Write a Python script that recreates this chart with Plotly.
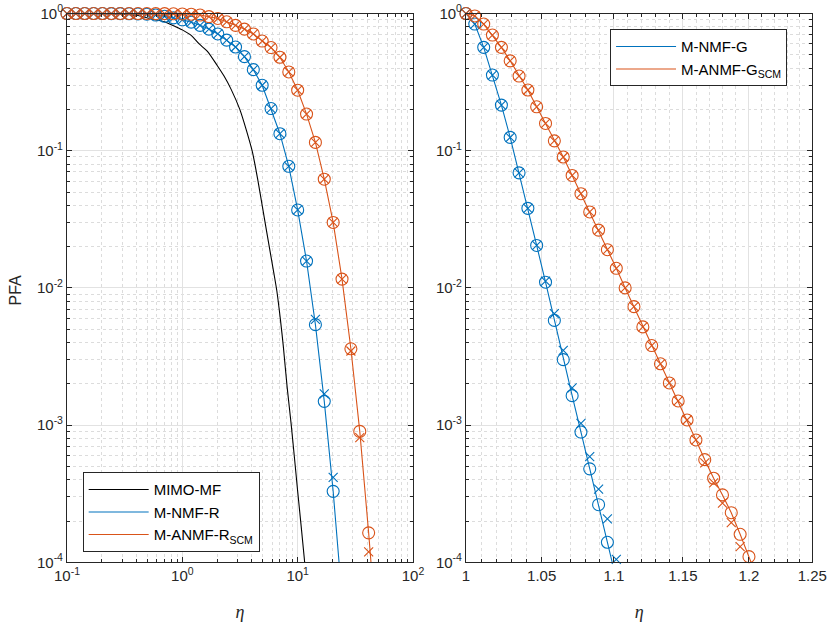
import math

import plotly.graph_objects as go

BLUE = "#0072BD"
ORANGE = "#D95319"
AXIS = "#262626"
PFA_MIN = 1e-4

# ---- left panel (eta on a log grid) ----
eta_left = [0.1, 0.1194, 0.1425, 0.1701, 0.2031, 0.2424, 0.2894, 0.3455, 0.4125, 0.4924,
            0.5878, 0.7017, 0.8377, 1.0, 1.194, 1.425, 1.701, 2.031, 2.424, 2.894,
            3.455, 4.125, 4.924, 5.878, 7.017, 8.377, 10.0, 11.94, 14.25, 17.01,
            20.31, 24.24, 28.94, 34.55, 41.25, 49.24]

eta_mf = [0.1, 0.2, 0.3, 0.4, 0.55, 0.7, 0.85, 1.0, 1.2, 1.4, 1.65, 2.0, 2.3, 2.65, 3.15,
          3.6, 4.05, 4.5, 5.0, 5.7, 6.2, 6.6, 7.1, 7.5, 8.1, 8.8, 10.0, 11.5, 12.5]
pfa_mf = [1.0, 0.998, 0.99, 0.97, 0.91, 0.87, 0.81, 0.76, 0.69, 0.6, 0.53, 0.42, 0.35, 0.28,
          0.2, 0.14, 0.098, 0.062, 0.037, 0.0195, 0.013, 0.0095, 0.0058, 0.0038, 0.0019, 0.001,
          0.00033, 0.0001, 0.00004]

pfa_nmf_r = [1.0, 1.0, 1.0, 1.0, 1.0, 0.999, 0.998, 0.996, 0.993, 0.988,
             0.975, 0.955, 0.93, 0.9, 0.865, 0.82, 0.77, 0.71, 0.64, 0.57,
             0.485, 0.39, 0.30, 0.203, 0.133, 0.077, 0.037, 0.0157, 0.0054, 0.00149,
             0.000329, 0.000055]
pfa_nmf_r_sim = [1.0, 1.0, 1.0, 1.0, 1.0, 0.999, 0.998, 0.996, 0.993, 0.988,
                 0.975, 0.955, 0.93, 0.9, 0.865, 0.82, 0.77, 0.71, 0.64, 0.57,
                 0.485, 0.39, 0.30, 0.203, 0.133, 0.077, 0.037, 0.0157, 0.0059, 0.00169,
                 0.000416]

pfa_anmf_r = [1.0, 1.0, 1.0, 1.0, 1.0, 1.0, 1.0, 1.0, 1.0, 1.0,
              0.999, 0.998, 0.996, 0.993, 0.988, 0.975, 0.95, 0.92, 0.87, 0.82,
              0.77, 0.71, 0.63, 0.565, 0.48, 0.375, 0.276, 0.185, 0.115, 0.062,
              0.030, 0.0116, 0.0036, 0.0009, 0.000164, 0.000025]
pfa_anmf_r_sim = [1.0, 1.0, 1.0, 1.0, 1.0, 1.0, 1.0, 1.0, 1.0, 1.0,
                  0.999, 0.998, 0.996, 0.993, 0.988, 0.975, 0.95, 0.92, 0.87, 0.82,
                  0.77, 0.71, 0.63, 0.565, 0.48, 0.375, 0.276, 0.185, 0.115, 0.062,
                  0.030, 0.0116, 0.00347, 0.00081, 0.000119]

# ---- right panel ----
eta_right = [1.0, 1.0057, 1.0115, 1.0172, 1.0231, 1.0289, 1.0348, 1.0407, 1.0466, 1.0526,
             1.0586, 1.0647, 1.0708, 1.0769, 1.0830, 1.0892, 1.0954, 1.1017, 1.1080, 1.1143,
             1.1207, 1.1271, 1.1335, 1.1400, 1.1465, 1.1531, 1.1597, 1.1663, 1.1730, 1.1797,
             1.1864, 1.1932, 1.2, 1.2068]

pfa_nmf_g = [1.0, 0.838, 0.567, 0.356, 0.215, 0.125, 0.069, 0.038, 0.0204, 0.011,
             0.0058, 0.0030, 0.00164, 0.00089, 0.00048, 0.000263, 0.00014, 0.000075]
pfa_nmf_g_sim = [1.0, 0.838, 0.567, 0.356, 0.215, 0.125, 0.069, 0.038, 0.0204, 0.0112,
                 0.0065, 0.0035, 0.00187, 0.00103, 0.00059, 0.000342, 0.000207, 0.000105]

pfa_anmf_g = [1.0, 0.96, 0.838, 0.697, 0.567, 0.452, 0.35, 0.277, 0.209, 0.158,
              0.118, 0.090, 0.066, 0.0486, 0.0358, 0.0264, 0.019, 0.0139, 0.0100, 0.0073,
              0.0052, 0.0038, 0.0028, 0.00203, 0.0015, 0.00109, 0.00078, 0.00056, 0.00041, 0.00031,
              0.00023, 0.00016, 0.00011, 0.000075]
pfa_anmf_g_sim = [1.0, 0.96, 0.838, 0.697, 0.567, 0.452, 0.35, 0.277, 0.209, 0.158,
                  0.118, 0.090, 0.066, 0.0486, 0.0358, 0.0264, 0.019, 0.0139, 0.0100, 0.0073,
                  0.0052, 0.0038, 0.0028, 0.00203, 0.0015, 0.00109, 0.00078, 0.00053, 0.00038, 0.00027,
                  0.000195, 0.00013]

y_ticks = [1e-4, 1e-3, 1e-2, 1e-1, 1]
y_labels = ["10<sup>-4</sup>", "10<sup>-3</sup>", "10<sup>-2</sup>", "10<sup>-1</sup>", "10<sup>0</sup>"]
xl_ticks = [0.1, 1, 10, 100]
xl_labels = ["10<sup>-1</sup>", "10<sup>0</sup>", "10<sup>1</sup>", "10<sup>2</sup>"]
xr_ticks = [1, 1.05, 1.1, 1.15, 1.2, 1.25]
xr_labels = ["1", "1.05", "1.1", "1.15", "1.2", "1.25"]


def visible(xs, ys):
    pts = [(x, y) for x, y in zip(xs, ys) if y >= PFA_MIN]
    return [p[0] for p in pts], [p[1] for p in pts]


fig = go.Figure()


def add_curve(xs, ys, ys_sim, color, name, xa, ya, legend):
    fig.add_trace(go.Scatter(x=xs[:len(ys)], y=ys, mode="lines", name=name,
                             line=dict(color=color, width=1.1),
                             xaxis=xa, yaxis=ya, legend=legend))
    cx, cy = visible(xs, ys)
    fig.add_trace(go.Scatter(x=cx, y=cy, mode="markers", showlegend=False, cliponaxis=False,
                             marker=dict(symbol="circle-open", size=12, color=color,
                                         line=dict(width=1.1)),
                             xaxis=xa, yaxis=ya))
    sx, sy = visible(xs, ys_sim)
    fig.add_trace(go.Scatter(x=sx, y=sy, mode="markers", showlegend=False, cliponaxis=False,
                             marker=dict(symbol="x-thin-open", size=9, color=color,
                                         line=dict(width=1.1, color=color)),
                             xaxis=xa, yaxis=ya))


fig.add_trace(go.Scatter(x=eta_mf, y=pfa_mf, mode="lines", name="MIMO-MF",
                         line=dict(color="black", width=1.1, shape="spline", smoothing=0.7),
                         xaxis="x", yaxis="y", legend="legend"))
add_curve(eta_left, pfa_nmf_r, pfa_nmf_r_sim, BLUE, "M-NMF-R", "x", "y", "legend")
add_curve(eta_left, pfa_anmf_r, pfa_anmf_r_sim, ORANGE, "M-ANMF-R<sub>SCM</sub>", "x", "y", "legend")
add_curve(eta_right, pfa_nmf_g, pfa_nmf_g_sim, BLUE, "M-NMF-G", "x2", "y2", "legend2")
add_curve(eta_right, pfa_anmf_g, pfa_anmf_g_sim, ORANGE, "M-ANMF-G<sub>SCM</sub>", "x2", "y2", "legend2")

decade_minor = [m * 10 ** e for e in range(-4, 2) for m in range(2, 10)]
right_minor = [round(1 + i / 100, 2) for i in range(1, 25) if i % 5]

axis_style = dict(
    showline=True, linecolor=AXIS, linewidth=1, mirror="ticks",
    ticks="inside", ticklen=5, tickcolor=AXIS, tickwidth=1,
    showgrid=True, gridcolor="#e2e2e2", gridwidth=1, zeroline=False,
    tickfont=dict(size=15, color=AXIS), tickmode="array", automargin=False,
)


def minor(vals):
    return dict(tickmode="array", tickvals=vals, ticks="inside", ticklen=3, tickcolor=AXIS,
                showgrid=True, gridcolor="#dcdcdc", griddash="dot", gridwidth=1)


eta_title = dict(text="<i>η</i>", font=dict(family="Liberation Serif, serif", size=18, color=AXIS),
                 standoff=22)

fig.update_layout(
    width=830, height=623,
    margin=dict(l=0, r=0, t=0, b=0),
    paper_bgcolor="white", plot_bgcolor="white",
    font=dict(family="Liberation Sans, Arial, sans-serif", size=15, color=AXIS),
    xaxis=dict(axis_style, domain=[0.0807, 0.4976], type="log", range=[-1, 2],
               tickvals=xl_ticks, ticktext=xl_labels, minor=minor(decade_minor),
               title=eta_title, anchor="y"),
    yaxis=dict(axis_style, domain=[0.0974, 0.9783], type="log", range=[-4, 0],
               tickvals=y_ticks, ticktext=y_labels, minor=minor(decade_minor), anchor="x"),
    xaxis2=dict(axis_style, domain=[0.5614, 0.9787], type="log", range=[0, math.log10(1.25)],
                tickvals=xr_ticks, ticktext=xr_labels, minor=minor(right_minor),
                title=eta_title, anchor="y2"),
    yaxis2=dict(axis_style, domain=[0.0974, 0.9783], type="log", range=[-4, 0],
                tickvals=y_ticks, ticktext=y_labels, minor=minor(decade_minor), anchor="x2"),
    legend=dict(x=0.0996, y=0.2419, xanchor="left", yanchor="top", bgcolor="white",
                bordercolor=AXIS, borderwidth=1, font=dict(size=15, color="black"),
                tracegroupgap=0, itemwidth=60),
    legend2=dict(x=0.735, y=0.953, xanchor="left", yanchor="top", bgcolor="white",
                 bordercolor=AXIS, borderwidth=1, font=dict(size=15, color="black"),
                 tracegroupgap=0, itemwidth=60),
    annotations=[dict(text="PFA", x=0.019, y=0.535, xref="paper", yref="paper",
                      xanchor="center", yanchor="middle",
                      textangle=-90, showarrow=False, font=dict(size=16, color=AXIS))],
)

# drop the default body margin so the 830x623 figure fills the window exactly
fig.write_html("out.html", config={"displayModeBar": False},
               post_script="document.body.style.margin = '0';")
